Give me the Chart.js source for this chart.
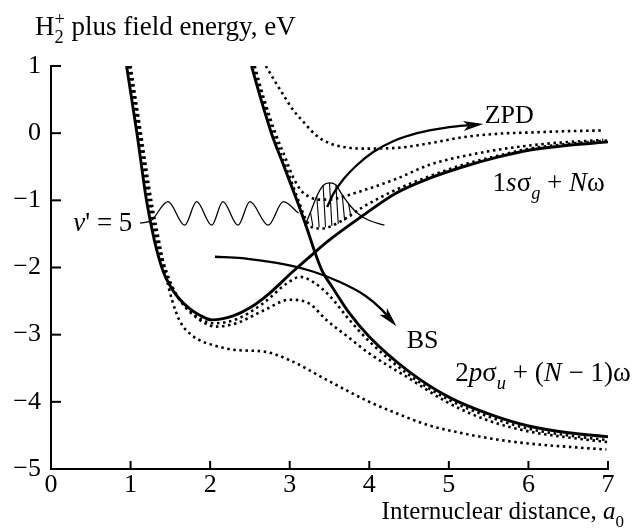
<!DOCTYPE html>
<html>
<head>
<meta charset="utf-8">
<script src="https://cdn.jsdelivr.net/npm/chart.js@4.4.0/dist/chart.umd.min.js"></script>
<style>
  html, body { margin: 0; padding: 0; background: #fff; }
  #wrap { width: 632px; height: 528px; }
</style>
</head>
<body>
<div id="wrap"><canvas id="chart" width="632" height="528"></canvas></div>
<script>
// 1s sigma_g + N omega (solid)
const sgX = [0.95, 1.08, 1.2, 1.3, 1.41, 1.5, 1.6, 1.75, 1.87, 2.02, 2.29, 2.5, 2.75, 3.04, 3.29, 3.5, 3.88, 4.34, 4.76, 5.18, 5.6, 6.02, 6.5, 7.0];
const sgY = [1.0, 0.0, -1.0, -1.6, -2.06, -2.28, -2.45, -2.62, -2.71, -2.78, -2.72, -2.6, -2.38, -2.06, -1.8, -1.59, -1.26, -0.89, -0.67, -0.5, -0.36, -0.25, -0.18, -0.13];
// 2p sigma_u + (N-1) omega (solid)
const suX = [2.52, 2.64, 2.77, 2.93, 3.09, 3.22, 3.31, 3.4, 3.55, 3.75, 4.0, 4.5, 5.0, 5.5, 6.0, 6.5, 7.0];
const suY = [1.0, 0.5, 0.0, -0.5, -1.0, -1.43, -1.75, -2.03, -2.32, -2.68, -3.03, -3.55, -3.93, -4.18, -4.36, -4.46, -4.52];

// dressed lower curves (dotted)
const dotAX = [0.97, 1.1, 1.22, 1.32, 1.43, 1.52, 1.62, 1.76, 1.9, 2.05, 2.33, 2.67, 2.95, 3.13, 3.3, 3.5, 3.75, 4.0, 4.5, 5.0, 5.5, 6.0, 6.5, 7.0];
const dotAY = [1.0, 0.0, -1.0, -1.6, -2.06, -2.3, -2.48, -2.66, -2.78, -2.83, -2.77, -2.53, -2.25, -2.14, -2.22, -2.42, -2.78, -3.1, -3.6, -3.97, -4.22, -4.4, -4.5, -4.57];
const dotBX = [0.99, 1.12, 1.24, 1.34, 1.45, 1.54, 1.64, 1.78, 1.92, 2.06, 2.33, 2.67, 3.0, 3.25, 3.46, 3.75, 4.0, 4.5, 5.0, 5.5, 6.0, 6.5, 7.0];
const dotBY = [1.0, 0.0, -1.0, -1.6, -2.06, -2.32, -2.52, -2.7, -2.82, -2.88, -2.83, -2.64, -2.48, -2.54, -2.78, -3.05, -3.28, -3.65, -4.02, -4.28, -4.44, -4.53, -4.6];
const dotCX = [1.0, 1.13, 1.26, 1.36, 1.44, 1.52, 1.62, 1.76, 1.9, 2.05, 2.33, 2.67, 3.0, 3.46, 4.0, 4.34, 4.75, 5.18, 5.6, 6.0, 6.5, 6.98];
const dotCY = [1.0, 0.0, -1.0, -1.62, -2.1, -2.48, -2.8, -3.0, -3.1, -3.16, -3.23, -3.25, -3.38, -3.67, -4.0, -4.17, -4.35, -4.47, -4.56, -4.62, -4.67, -4.71];

// dressed upper curves (dotted)
const dotDX = [2.7, 2.8, 2.92, 3.04, 3.17, 3.34, 3.5, 3.7, 3.92, 4.34, 4.76, 5.18, 5.6, 6.02, 6.5, 6.94];
const dotDY = [1.0, 0.8, 0.57, 0.35, 0.17, -0.04, -0.15, -0.21, -0.23, -0.22, -0.15, -0.06, -0.01, 0.01, 0.03, 0.04];
const dotEX = [2.56, 2.68, 2.82, 2.95, 3.04, 3.14, 3.25, 3.4, 3.6, 3.8, 4.34, 4.76, 5.5, 6.2, 6.94];
const dotEY = [1.0, 0.5, 0.0, -0.38, -0.65, -0.85, -0.95, -0.99, -0.97, -0.9, -0.68, -0.47, -0.27, -0.16, -0.1];
const dotFX = [2.54, 2.66, 2.79, 2.95, 3.1, 3.2, 3.28, 3.4, 3.6, 3.92, 4.34, 4.76, 5.18, 5.6, 6.02, 6.5, 7.0];
const dotFY = [1.0, 0.5, 0.0, -0.5, -0.97, -1.28, -1.4, -1.42, -1.34, -1.1, -0.84, -0.64, -0.47, -0.34, -0.23, -0.16, -0.11];

// v' = 5 vibrational wave
const waveX = [1.12, 1.26, 1.47, 1.68, 1.83, 2.02, 2.16, 2.35, 2.5, 2.73, 2.92, 3.11];
const waveY = [-1.34, -1.3, -1.02, -1.37, -1.02, -1.37, -1.02, -1.37, -1.02, -1.37, -1.02, -1.19];

// wave packet near the crossing
const bumpX = [3.19, 3.27, 3.34, 3.42, 3.5, 3.58, 3.66, 3.76, 3.86, 4.0, 4.19];
const bumpY = [-1.38, -1.15, -0.94, -0.78, -0.74, -0.77, -0.92, -1.08, -1.2, -1.3, -1.37];
const hatchX = [3.26, 3.34, 3.42, 3.5, 3.58, 3.66, 3.74];
const hatchTop = [-1.17, -0.94, -0.78, -0.74, -0.77, -0.92, -1.05];
const hatchBottom = [-1.38, -1.4, -1.4, -1.38, -1.35, -1.3, -1.25];

// arrows
const zpdX = [3.47, 3.55, 3.68, 3.85, 4.05, 4.3, 4.6, 4.95, 5.37];
const zpdY = [-1.1, -0.9, -0.68, -0.47, -0.28, -0.12, 0.0, 0.08, 0.13];
const bsX = [2.06, 2.4, 2.71, 3.0, 3.29, 3.6, 3.95, 4.15, 4.3];
const bsY = [-1.84, -1.86, -1.91, -1.97, -2.06, -2.2, -2.42, -2.62, -2.82];

const xTicks = [0, 1, 2, 3, 4, 5, 6, 7];
const yTicks = [-5, -4, -3, -2, -1, 0, 1];

const FONT = '"Liberation Serif", "Times New Roman", serif';

function pts(xs, ys) {
    return xs.map((x, i) => ({ x: x, y: ys[i] }));
}

function hatchPts() {
    const out = [];
    hatchX.forEach((x, i) => {
        out.push({ x: x, y: hatchTop[i] });
        out.push({ x: x + 0.03, y: hatchBottom[i] });
        out.push({ x: x + 0.03, y: null });
    });
    return out;
}

function solid(data) {
    return { data: data, borderColor: '#000', borderWidth: 2.9, cubicInterpolationMode: 'monotone', pointRadius: 0, fill: false };
}

function dotted(data) {
    return { data: data, borderColor: '#000', borderWidth: 2.6, borderDash: [2.5, 3.6], cubicInterpolationMode: 'monotone', pointRadius: 0, fill: false };
}

// text pieces: it = italic, sub/sup = index, keep = do not advance
function drawParts(ctx, x, y, parts, size, align) {
    let w = 0;
    parts.forEach(p => {
        const fs = (p.sub || p.sup) ? size * 0.68 : size;
        ctx.font = (p.it ? 'italic ' : '') + fs + 'px ' + FONT;
        if (!p.keep) w += ctx.measureText(p.t).width;
    });
    let cx = align === 'right' ? x - w : x;
    parts.forEach(p => {
        const fs = (p.sub || p.sup) ? size * 0.68 : size;
        ctx.font = (p.it ? 'italic ' : '') + fs + 'px ' + FONT;
        const dy = p.sub ? size * 0.3 : (p.sup ? -size * 0.36 : 0);
        ctx.fillText(p.t, cx, y + dy);
        if (!p.keep) cx += ctx.measureText(p.t).width;
    });
}

const curveLabels = [
    { x: 5.45, y: 0.15, size: 26, parts: [{ t: 'ZPD' }] },
    { x: 5.55, y: -0.86, size: 27, parts: [{ t: '1' }, { t: 's', it: true }, { t: 'σ' }, { t: 'g', it: true, sub: true }, { t: ' + ' }, { t: 'N', it: true }, { t: 'ω' }] },
    { x: 4.47, y: -3.2, size: 26, parts: [{ t: 'BS' }] },
    { x: 5.08, y: -3.69, size: 27, parts: [{ t: '2' }, { t: 'p', it: true }, { t: 'σ' }, { t: 'u', it: true, sub: true }, { t: ' + (' }, { t: 'N', it: true }, { t: ' − 1)ω' }] },
    { x: 0.28, y: -1.46, size: 27, parts: [{ t: 'ν', it: true }, { t: "' = 5" }] }
];

const textPlugin = {
    id: 'texts',
    afterDraw(chart) {
        const { ctx, chartArea: a, scales: { x, y } } = chart;
        ctx.save();
        ctx.fillStyle = '#000';
        ctx.textBaseline = 'alphabetic';
        ctx.textAlign = 'left';
        curveLabels.forEach(l => {
            drawParts(ctx, x.getPixelForValue(l.x), y.getPixelForValue(l.y), l.parts, l.size, 'left');
        });
        // axis titles
        drawParts(ctx, a.left - 16, a.top - 31, [{ t: 'H' }, { t: '2', sub: true, keep: true }, { t: '+', sup: true }, { t: ' plus field energy, eV' }], 27, 'left');
        drawParts(ctx, a.right + 16, a.bottom + 50, [{ t: 'Internuclear distance, ' }, { t: 'a', it: true }, { t: '0', sub: true }], 25, 'right');
        // inward tick marks
        ctx.strokeStyle = '#000';
        ctx.lineWidth = 2;
        xTicks.forEach(v => {
            const px = x.getPixelForValue(v);
            ctx.beginPath(); ctx.moveTo(px, a.bottom); ctx.lineTo(px, a.bottom - 8); ctx.stroke();
        });
        yTicks.forEach(v => {
            const py = y.getPixelForValue(v);
            ctx.beginPath(); ctx.moveTo(a.left, py); ctx.lineTo(a.left + 10, py); ctx.stroke();
        });
        ctx.restore();
    }
};

const arrowPlugin = {
    id: 'arrows',
    afterDatasetsDraw(chart) {
        const ctx = chart.ctx;
        chart.data.datasets.forEach((ds, i) => {
            if (!ds.arrow) return;
            const el = chart.getDatasetMeta(i).data;
            const p1 = el[el.length - 1], p0 = el[el.length - 2];
            const ang = Math.atan2(p1.y - p0.y, p1.x - p0.x);
            const c = Math.cos(ang), s = Math.sin(ang);
            const tipX = p1.x + 5 * c, tipY = p1.y + 5 * s;
            const L = 20, W = 5;
            ctx.save();
            ctx.fillStyle = '#000';
            ctx.beginPath();
            ctx.moveTo(tipX, tipY);
            ctx.lineTo(tipX - L * c - W * s, tipY - L * s + W * c);
            ctx.lineTo(tipX - L * 0.75 * c, tipY - L * 0.75 * s);
            ctx.lineTo(tipX - L * c + W * s, tipY - L * s - W * c);
            ctx.closePath();
            ctx.fill();
            ctx.restore();
        });
    }
};

const ctx = document.getElementById('chart').getContext('2d');
new Chart(ctx, {
    type: 'line',
    data: {
        datasets: [
            dotted(pts(dotAX, dotAY)),
            dotted(pts(dotBX, dotBY)),
            dotted(pts(dotCX, dotCY)),
            dotted(pts(dotDX, dotDY)),
            dotted(pts(dotEX, dotEY)),
            dotted(pts(dotFX, dotFY)),
            solid(pts(sgX, sgY)),
            solid(pts(suX, suY)),
            { data: pts(waveX, waveY), borderColor: '#000', borderWidth: 1.3, cubicInterpolationMode: 'monotone', pointRadius: 0 },
            { data: pts(bumpX, bumpY), borderColor: '#000', borderWidth: 1.3, cubicInterpolationMode: 'monotone', pointRadius: 0 },
            { data: hatchPts(), borderColor: '#000', borderWidth: 1.1, tension: 0, pointRadius: 0, spanGaps: false },
            Object.assign(solid(pts(zpdX, zpdY)), { borderWidth: 2.3, arrow: true }),
            Object.assign(solid(pts(bsX, bsY)), { borderWidth: 2.3, arrow: true })
        ]
    },
    options: {
        responsive: false,
        animation: false,
        devicePixelRatio: 1,
        layout: { padding: { top: 66, right: 24, left: 0, bottom: 0 } },
        plugins: { legend: { display: false }, tooltip: { enabled: false } },
        scales: {
            x: {
                type: 'linear', min: 0, max: 7,
                afterBuildTicks: s => { s.ticks = xTicks.map(v => ({ value: v })); },
                ticks: { color: '#000', font: { family: FONT, size: 26 }, padding: 1, maxRotation: 0, autoSkip: false },
                grid: { display: false, drawTicks: false },
                border: { display: true, color: '#000', width: 2 },
                afterFit: s => { s.height = 59; }
            },
            y: {
                type: 'linear', min: -5, max: 1,
                afterBuildTicks: s => { s.ticks = yTicks.map(v => ({ value: v })); },
                ticks: { color: '#000', font: { family: FONT, size: 26 }, padding: 10, callback: v => String(v).replace('-', '\u2212') },
                grid: { display: false, drawTicks: false },
                border: { display: true, color: '#000', width: 2 },
                afterFit: s => { s.width = 51; }
            }
        }
    },
    plugins: [textPlugin, arrowPlugin]
});
</script>
</body>
</html>
